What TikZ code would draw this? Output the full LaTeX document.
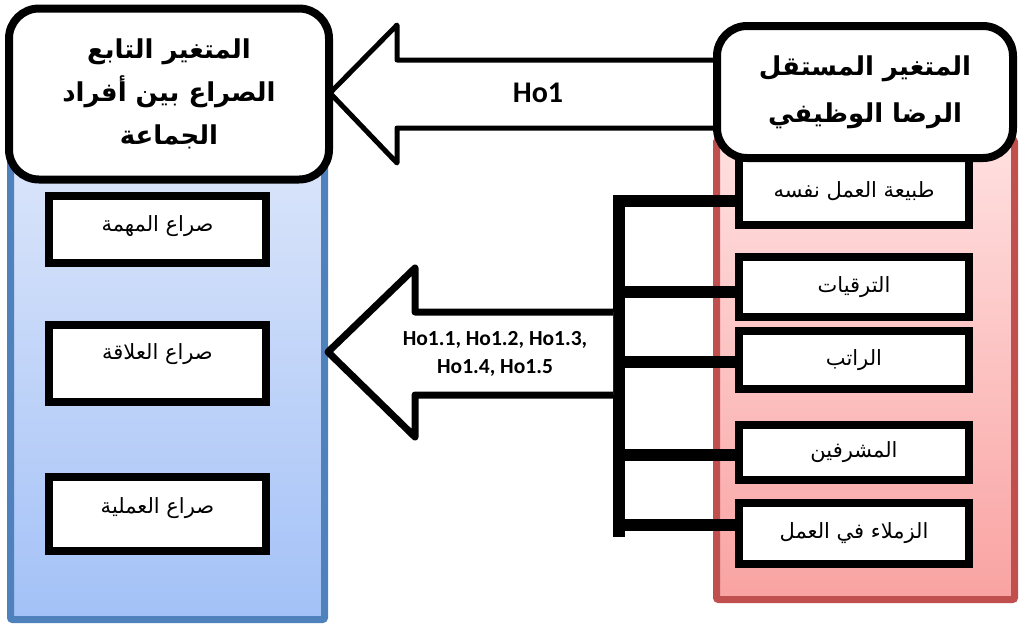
\documentclass[tikz,border=0pt]{standalone}
\usepackage{fontspec}
\TeXXeTstate=1
\newfontfamily\arb[Script=Arabic]{DejaVu Sans}
\newfontfamily\lat{Carlito}
\definecolor{blueedge}{HTML}{4F81BD}
\definecolor{bluetop}{HTML}{DCE6FA}
\definecolor{bluebot}{HTML}{A3C1F7}
\definecolor{rededge}{HTML}{C0504D}
\definecolor{redtop}{HTML}{FFE0E0}
\definecolor{redbot}{HTML}{F9A3A2}
\tikzset{
  bluepanel/.style={draw=blueedge, line width=7pt, top color=bluetop, bottom color=bluebot, rounded corners=2pt},
  redpanel/.style={draw=rededge, line width=7pt, top color=redtop, bottom color=redbot, rounded corners=2pt},
  headbox/.style={draw=black, fill=white, line width=8pt, rounded corners=30pt, inner sep=0pt, align=center, font=\arb\bfseries\fontsize{26}{43}\selectfont},
  itembox/.style={draw=black, fill=white, line width=8pt, inner sep=0pt, font=\arb\fontsize{21}{24}\selectfont},
  blockarrow/.style={draw=black, fill=white, line join=round},
  conn/.style={draw=black, line width=12pt},
  hotext/.style={font=\lat\bfseries\fontsize{30}{34}\selectfont},
  hosmall/.style={font=\lat\bfseries\fontsize{21.5}{28}\selectfont, align=center}
}
\begin{document}
\begin{tikzpicture}[x=1pt,y=-1pt]
\useasboundingbox (0,0) rectangle (1020,625);
% panels
\path[bluepanel] (10.5,140) rectangle (324.5,619.5);
\path[redpanel] (716.5,140) rectangle (1014.5,599.5);
% right items
\node[itembox, minimum width=230pt, minimum height=67pt] (r1) at (854,191.5) {\beginR طبيعة العمل نفسه\endR};
\node[itembox, minimum width=230pt, minimum height=60pt] (r2) at (854,287) {\beginR الترقيات\endR};
\node[itembox, minimum width=230pt, minimum height=58pt] (r3) at (854,360) {\beginR الراتب\endR};
\node[itembox, minimum width=230pt, minimum height=55pt] (r4) at (854,452) {\beginR المشرفين\endR};
\node[itembox, minimum width=230pt, minimum height=61pt] (r5) at (854,533.5) {\beginR الزملاء في العمل\endR};
% left items
\node[itembox, minimum width=217pt, minimum height=67pt, text depth=12pt] (l1) at (157.5,229.5) {\beginR صراع المهمة\endR};
\node[itembox, minimum width=217pt, minimum height=77pt, text depth=24pt] (l2) at (157.5,363.5) {\beginR صراع العلاقة\endR};
\node[itembox, minimum width=217pt, minimum height=74pt, text depth=16pt] (l3) at (157.5,514) {\beginR صراع العملية\endR};
% bus connector
\coordinate (bt) at (619,195);
\coordinate (bb) at (619,537);
\draw[conn] (bt) -- (bb);
\draw[conn] ([yshift=-9.5pt]bt |- r1.west) -- ([yshift=-9.5pt]r1.west);
\draw[conn] ([yshift=-5pt]bt |- r2.west) -- ([yshift=-5pt]r2.west);
\draw[conn] ([yshift=-2pt]bt |- r3.west) -- ([yshift=-2pt]r3.west);
\draw[conn] ([yshift=-3pt]bt |- r4.west) -- ([yshift=-3pt]r4.west);
\draw[conn] ([yshift=8.5pt]bt |- r5.west) -- ([yshift=8.5pt]r5.west);
% head boxes
\node[headbox, minimum width=320pt, minimum height=171pt] (dep) at (169,94)
  {\beginR المتغير التابع\endR\\\beginR الصراع بين أفراد\endR\\\beginR الجماعة\endR};
% big arrow Ho1
\coordinate (a1end) at (740,0);
\draw[blockarrow, line width=5pt] (a1end |- 0,60) -- (397,60) -- (397,25) -- (330,93) -- (397,163) -- (397,128) -- (a1end |- 0,128);
\node[hotext] (ho1) at (538,93) {Ho1};
\node[headbox, minimum width=296pt, minimum height=132pt, font=\arb\bfseries\fontsize{26}{47}\selectfont] (ind) at (865,92)
  {\beginR المتغير المستقل\endR\\\beginR الرضا الوظيفي\endR};
% arrow Ho1.x
\path[fill=white] (613,312) -- (415,312) -- (415,268) -- (328,352) -- (415,437) -- (415,395) -- (613,395) -- cycle;
\draw[black, line width=7pt, line join=round] (613,312) -- (415,312) -- (415,268) -- (328,352) -- (415,437) -- (415,395) -- (613,395);
\node[hosmall] (ho2) at (495,354) {Ho1.1, Ho1.2, Ho1.3,\\Ho1.4, Ho1.5};
\end{tikzpicture}
\end{document}
